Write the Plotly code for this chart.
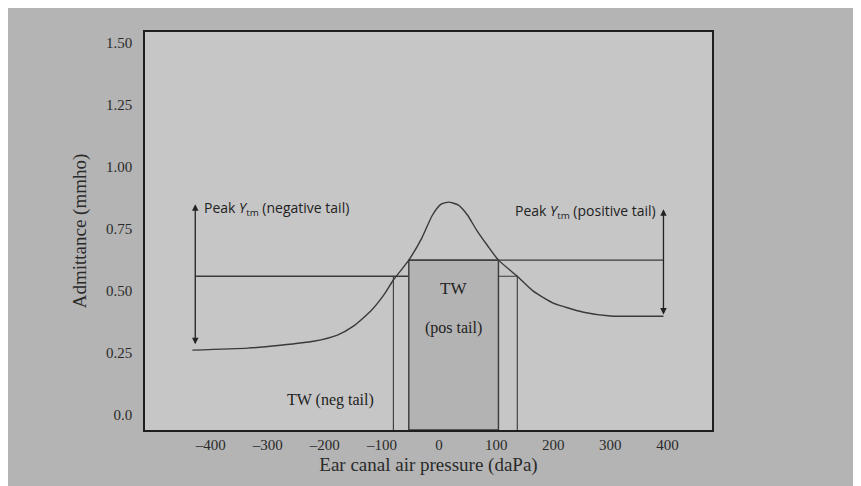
import plotly.graph_objects as go

# Tympanogram curve
pressure = [-432, -335, -278, -220, -178, -150, -120, -97, -80, -53, -30, -12, 3, 17,
            34, 50, 66, 85, 104, 137, 165, 200, 253, 300, 393]
admittance = [0.262, 0.270, 0.282, 0.298, 0.323, 0.359, 0.419, 0.484, 0.545, 0.625,
              0.715, 0.805, 0.850, 0.859, 0.847, 0.806, 0.745, 0.683, 0.625, 0.560, 0.500,
              0.452, 0.415, 0.400, 0.399]

# Reference levels
neg_tail_level = 0.56
pos_tail_level = 0.625
neg_tail_x = [-427, -53]
neg_tw_edges = [-80, 137]
pos_tw_edges = [-53, 104]
pos_line_x = [-53, 393]
neg_arrow = [-427, 0.28, 0.85]
pos_arrow = [393, 0.40, 0.83]

x_ticks = [-400, -300, -200, -100, 0, 100, 200, 300, 400]
x_ticktext = ["\u2013400", "\u2013300", "\u2013200", "\u2013100", "0", "100", "200", "300", "400"]
y_ticks = [0.0, 0.25, 0.50, 0.75, 1.00, 1.25, 1.50]
y_ticktext = ["0.0", "0.25", "0.50", "0.75", "1.00", "1.25", "1.50"]

y_bottom = -0.06
line_col = "#3a3a3a"

fig = go.Figure()

# Pos tail TW box (shaded)
fig.add_trace(go.Scatter(
    x=[pos_tw_edges[0], pos_tw_edges[0], pos_tw_edges[1], pos_tw_edges[1], pos_tw_edges[0]],
    y=[y_bottom, pos_tail_level, pos_tail_level, y_bottom, y_bottom],
    mode="lines", fill="toself", fillcolor="#b3b3b3",
    line=dict(color=line_col, width=1.4), hoverinfo="skip", showlegend=False))

# Neg tail horizontal line + TW outline
fig.add_trace(go.Scatter(
    x=[neg_tail_x[0], neg_tail_x[1]], y=[neg_tail_level, neg_tail_level],
    mode="lines", line=dict(color=line_col, width=1.3), showlegend=False, hoverinfo="skip"))
fig.add_trace(go.Scatter(
    x=[neg_tw_edges[0], neg_tw_edges[0]], y=[y_bottom, neg_tail_level],
    mode="lines", line=dict(color=line_col, width=1.1), showlegend=False, hoverinfo="skip"))
fig.add_trace(go.Scatter(
    x=[pos_tw_edges[1], neg_tw_edges[1], neg_tw_edges[1]],
    y=[neg_tail_level, neg_tail_level, y_bottom],
    mode="lines", line=dict(color=line_col, width=1.1), showlegend=False, hoverinfo="skip"))

# Pos tail horizontal line
fig.add_trace(go.Scatter(
    x=pos_line_x, y=[pos_tail_level, pos_tail_level],
    mode="lines", line=dict(color=line_col, width=1.3), showlegend=False, hoverinfo="skip"))

# Tympanogram
fig.add_trace(go.Scatter(
    x=pressure, y=admittance, mode="lines",
    line=dict(color=line_col, width=1.4, shape="spline", smoothing=0.55),
    showlegend=False, hoverinfo="skip"))

# Arrows
for ax_, y0, y1 in [neg_arrow, pos_arrow]:
    fig.add_annotation(x=ax_, y=y1, ax=ax_, ay=y0, xref="x", yref="y", axref="x", ayref="y",
                       showarrow=True, arrowhead=2, arrowsize=1, arrowwidth=1.3,
                       arrowcolor="#222222", arrowside="end+start", text="")

sans = "Open Sans, Noto Sans, sans-serif"
serif = "Liberation Serif, DejaVu Serif, serif"
fig.add_annotation(x=neg_arrow[0] + 12, y=0.835, xref="x", yref="y", xanchor="left", yanchor="middle",
                   text="Peak <i>Y</i><sub>tm</sub> (negative tail)", showarrow=False,
                   font=dict(family=sans, size=14, color="#222222"))
fig.add_annotation(x=pos_arrow[0] - 10, y=0.82, xref="x", yref="y", xanchor="right", yanchor="middle",
                   text="Peak <i>Y</i><sub>tm</sub> (positive tail)", showarrow=False,
                   font=dict(family=sans, size=14, color="#222222"))
fig.add_annotation(x=25, y=0.51, xref="x", yref="y", text="TW", showarrow=False,
                   font=dict(family=serif, size=17, color="#222222"))
fig.add_annotation(x=25, y=0.35, xref="x", yref="y", text="(pos tail)", showarrow=False,
                   font=dict(family=serif, size=16, color="#222222"))
fig.add_annotation(x=-190, y=0.06, xref="x", yref="y", text="TW (neg tail)", showarrow=False,
                   font=dict(family=serif, size=16, color="#222222"))

fig.update_layout(
    width=861, height=486,
    margin=dict(l=137, r=157, t=24, b=64),
    paper_bgcolor="#b4b4b4", plot_bgcolor="#c6c6c6",
    font=dict(family=serif, color="#222222"),
    xaxis=dict(range=[-515, 478], tickvals=x_ticks, ticktext=x_ticktext, showgrid=False, zeroline=False,
               showline=True, mirror=True, linecolor="#1e1e1e", linewidth=1.6, ticks="",
               tickfont=dict(family=serif, size=15, color="#2a2a2a"),
               title=dict(text="Ear canal air pressure (daPa)", font=dict(family=serif, size=19, color="#2a2a2a"),
                          standoff=6)),
    yaxis=dict(range=[y_bottom, 1.545], tickvals=y_ticks, ticktext=y_ticktext, showgrid=False, zeroline=False,
               showline=True, mirror=True, linecolor="#1e1e1e", linewidth=1.6, ticks="",
               ticklabelstandoff=8,
               tickfont=dict(family=serif, size=15, color="#2a2a2a"),
               title=dict(text="Admittance (mmho)", font=dict(family=serif, size=19, color="#2a2a2a"),
                          standoff=14)),
)

fig.write_html("out.html")
